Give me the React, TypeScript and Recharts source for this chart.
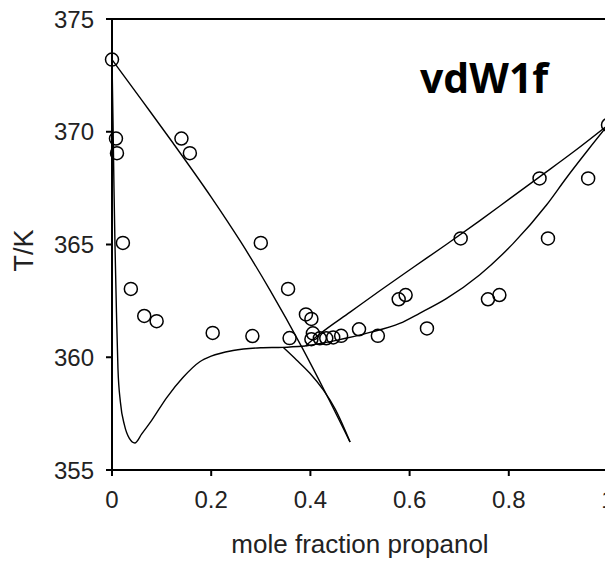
import { ComposedChart, Line, Scatter, XAxis, YAxis, ReferenceLine } from "recharts";

// measured points (mole fraction propanol, T/K)
const measured = [
  { x: 0, T: 373.2 }, { x: 0.008, T: 369.7 }, { x: 0.01, T: 369.05 },
  { x: 0.022, T: 365.07 }, { x: 0.038, T: 363.03 }, { x: 0.065, T: 361.83 },
  { x: 0.09, T: 361.6 }, { x: 0.14, T: 369.7 }, { x: 0.157, T: 369.05 },
  { x: 0.203, T: 361.08 }, { x: 0.283, T: 360.94 }, { x: 0.3, T: 365.07 },
  { x: 0.355, T: 363.03 }, { x: 0.358, T: 360.85 }, { x: 0.391, T: 361.9 },
  { x: 0.402, T: 361.7 }, { x: 0.405, T: 361.06 }, { x: 0.402, T: 360.8 },
  { x: 0.419, T: 360.84 }, { x: 0.432, T: 360.84 }, { x: 0.446, T: 360.88 },
  { x: 0.462, T: 360.95 }, { x: 0.498, T: 361.24 }, { x: 0.536, T: 360.95 },
  { x: 0.578, T: 362.57 }, { x: 0.592, T: 362.76 }, { x: 0.635, T: 361.28 },
  { x: 0.703, T: 365.27 }, { x: 0.758, T: 362.57 }, { x: 0.781, T: 362.76 },
  { x: 0.862, T: 367.93 }, { x: 0.879, T: 365.27 }, { x: 0.96, T: 367.93 },
  { x: 1.0, T: 370.3 },
];

// model curves
const liquidLeft = [
  { x: 0, T: 373.2 }, { x: 0.002, T: 370.5 }, { x: 0.004, T: 367.5 },
  { x: 0.006, T: 365 }, { x: 0.009, T: 362 }, { x: 0.012, T: 359.5 },
  { x: 0.017, T: 358 }, { x: 0.025, T: 357 }, { x: 0.035, T: 356.4 },
  { x: 0.046, T: 356.2 }, { x: 0.06, T: 356.6 }, { x: 0.08, T: 357.2 },
  { x: 0.11, T: 358.2 }, { x: 0.143, T: 359.1 }, { x: 0.177, T: 359.8 },
  { x: 0.2, T: 360.05 }, { x: 0.244, T: 360.3 }, { x: 0.3, T: 360.42 },
  { x: 0.345, T: 360.44 }, { x: 0.39, T: 360.5 },
];

const vaporLeft = [
  { x: 0, T: 373.2 }, { x: 0.06, T: 371.4 }, { x: 0.123, T: 369.5 },
  { x: 0.2, T: 367.1 }, { x: 0.26, T: 365.1 }, { x: 0.3185, T: 362.98 },
  { x: 0.383, T: 360.44 }, { x: 0.43, T: 358.45 }, { x: 0.48, T: 356.24 },
];

const metastable = [
  { x: 0.345, T: 360.44 }, { x: 0.372, T: 359.88 }, { x: 0.399, T: 359.29 },
  { x: 0.426, T: 358.55 }, { x: 0.45, T: 357.7 }, { x: 0.48, T: 356.24 },
];

const liquidRight = [
  { x: 0.39, T: 360.5 }, { x: 0.452, T: 360.75 }, { x: 0.52, T: 361.1 },
  { x: 0.58, T: 361.5 }, { x: 0.62, T: 361.95 }, { x: 0.674, T: 362.6 },
  { x: 0.741, T: 363.65 }, { x: 0.809, T: 365.05 }, { x: 0.876, T: 366.75 },
  { x: 0.916, T: 367.95 }, { x: 0.96, T: 369.2 }, { x: 1, T: 370.3 },
];

const vaporRight = [
  { x: 0.39, T: 360.5 }, { x: 0.42, T: 361.05 }, { x: 0.48, T: 362.0 },
  { x: 0.54, T: 362.95 }, { x: 0.607, T: 363.98 }, { x: 0.674, T: 365.0 },
  { x: 0.741, T: 366.05 }, { x: 0.8, T: 367.0 }, { x: 0.862, T: 368.0 },
  { x: 0.93, T: 369.1 }, { x: 1, T: 370.3 },
];

const xTicks = [0, 0.2, 0.4, 0.6, 0.8, 1];
const yTicks = [355, 360, 365, 370, 375];

const font = '"Liberation Sans", Arial, Helvetica, sans-serif';
const tickStyle = { fontSize: 24, fill: "#222", fontFamily: font };

const OpenCircle = (props: any) => {
  const { cx, cy } = props;
  if (cx == null || cy == null) return null;
  return <circle cx={cx} cy={cy} r={6.5} fill="none" stroke="#000" strokeWidth={1.5} />;
};

const curves = [liquidLeft, vaporLeft, metastable, liquidRight, vaporRight];

export default function App() {
  return (
    <div style={{ position: "fixed", left: 0, top: 0, width: 605, height: 562, overflow: "hidden", background: "#fff" }}>
      <ComposedChart width={620} height={562} margin={{ top: 19, right: 12, left: 0, bottom: 0 }}>
        <XAxis
          dataKey="x"
          type="number"
          domain={[0, 1]}
          ticks={xTicks}
          tickFormatter={(v: number) => String(v)}
          height={92}
          tickSize={6}
          tickMargin={15}
          tick={tickStyle}
          axisLine={{ stroke: "#000", strokeWidth: 2 }}
          tickLine={{ stroke: "#000", strokeWidth: 2 }}
          allowDuplicatedCategory={false}
          label={{
            value: "mole fraction propanol",
            position: "insideBottom",
            offset: 9,
            style: { fontSize: 26, fill: "#222", fontFamily: font },
          }}
        />
        <YAxis
          type="number"
          domain={[355, 375]}
          ticks={yTicks}
          width={112}
          tickSize={6}
          tickMargin={12}
          tick={tickStyle}
          axisLine={{ stroke: "#000", strokeWidth: 2 }}
          tickLine={{ stroke: "#000", strokeWidth: 2 }}
          label={{
            content: (p: any) => {
              const vb = p.viewBox || { x: 0, y: 19, height: 451 };
              return (
                <text
                  transform={`translate(${vb.x + 33},${vb.y + vb.height / 2 + 6}) rotate(-90)`}
                  textAnchor="middle"
                  fontSize={27}
                  fill="#222"
                  fontFamily={font}
                >
                  T/K
                </text>
              );
            },
          }}
        />
        <ReferenceLine y={375} stroke="#000" strokeWidth={2} />
        {curves.map((c, i) => (
          <Line
            key={i}
            data={c}
            dataKey="T"
            type="monotone"
            stroke="#000"
            strokeWidth={1.4}
            dot={false}
            activeDot={false}
            isAnimationActive={false}
          />
        ))}
        <Scatter data={measured} dataKey="T" shape={OpenCircle} isAnimationActive={false} />
      </ComposedChart>
      <svg width={605} height={562} style={{ position: "absolute", left: 0, top: 0, pointerEvents: "none" }}>
        <text x={420} y={93} fontSize={41} fontWeight={700} fontFamily='"Open Sans", "Noto Sans", sans-serif' fill="#000">
          vdW1f
        </text>
      </svg>
    </div>
  );
}
